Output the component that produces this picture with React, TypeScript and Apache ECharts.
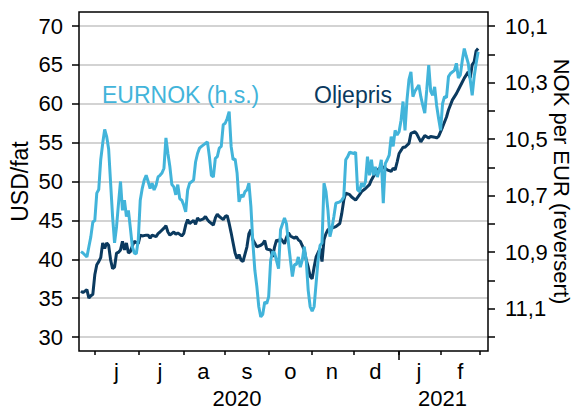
import React, { useEffect, useRef } from "react";
import * as echarts from "echarts";

// ---- axis / category definitions ----
const startDate = "2020-05-20";
const endDate = "2021-03-05";
const monthLetters = ["j", "f", "m", "a", "m", "j", "j", "a", "s", "o", "n", "d"];
const leftMin = 30;
const leftMax = 70;
const leftInterval = 5;
const rightMin = 10.1;
const rightMax = 11.2;
const rightInterval = 0.1;

// ---- series values ----
// Oil price, USD per barrel (left axis)
const oilData: [string, number][] = [
  ["2020-05-21", 35.9], ["2020-05-22", 35.7], ["2020-05-26", 36.1], ["2020-05-27", 35.0], ["2020-05-28", 35.3], ["2020-05-29", 35.5],
  ["2020-06-01", 38.0], ["2020-06-02", 39.3], ["2020-06-03", 39.7], ["2020-06-04", 40.2], ["2020-06-05", 42.1], ["2020-06-08", 41.4],
  ["2020-06-09", 42.1], ["2020-06-10", 41.8], ["2020-06-11", 39.9], ["2020-06-12", 38.8], ["2020-06-15", 39.0], ["2020-06-16", 40.8],
  ["2020-06-17", 40.9], ["2020-06-18", 41.2], ["2020-06-19", 42.3], ["2020-06-22", 41.2], ["2020-06-23", 42.1], ["2020-06-24", 40.8],
  ["2020-06-25", 41.0], ["2020-06-26", 41.7], ["2020-06-29", 42.3],
  ["2020-07-01", 42.0], ["2020-07-02", 43.1], ["2020-07-03", 43.0], ["2020-07-07", 43.1], ["2020-07-08", 43.1], ["2020-07-09", 42.7],
  ["2020-07-10", 43.1], ["2020-07-14", 42.9], ["2020-07-15", 43.3], ["2020-07-16", 43.5], ["2020-07-20", 44.0], ["2020-07-21", 44.3],
  ["2020-07-22", 43.5], ["2020-07-23", 43.1], ["2020-07-27", 43.5], ["2020-07-28", 43.2], ["2020-07-29", 43.4], ["2020-07-31", 43.0],
  ["2020-08-03", 43.3], ["2020-08-04", 44.4], ["2020-08-05", 45.1], ["2020-08-06", 44.6], ["2020-08-10", 45.0], ["2020-08-11", 44.5],
  ["2020-08-12", 45.3], ["2020-08-13", 45.0], ["2020-08-17", 45.2], ["2020-08-18", 45.5], ["2020-08-19", 45.1], ["2020-08-20", 44.8],
  ["2020-08-24", 44.4], ["2020-08-25", 45.3], ["2020-08-26", 45.8], ["2020-08-27", 45.5], ["2020-08-31", 45.1],
  ["2020-09-01", 45.5], ["2020-09-02", 45.6], ["2020-09-03", 44.6], ["2020-09-04", 43.4], ["2020-09-07", 42.1], ["2020-09-08", 40.8],
  ["2020-09-09", 40.1], ["2020-09-10", 40.6], ["2020-09-11", 39.9], ["2020-09-14", 39.7], ["2020-09-16", 41.6], ["2020-09-17", 43.3],
  ["2020-09-18", 43.8], ["2020-09-21", 42.5], ["2020-09-23", 41.6], ["2020-09-25", 41.8], ["2020-09-28", 42.0], ["2020-09-29", 42.4],
  ["2020-09-30", 41.3],
  ["2020-10-02", 41.2], ["2020-10-05", 40.3], ["2020-10-06", 41.6], ["2020-10-07", 42.5], ["2020-10-08", 42.3], ["2020-10-09", 42.7],
  ["2020-10-13", 42.0], ["2020-10-14", 42.8], ["2020-10-15", 43.4], ["2020-10-16", 43.0], ["2020-10-20", 42.7], ["2020-10-21", 42.9],
  ["2020-10-22", 42.5], ["2020-10-23", 42.3], ["2020-10-27", 41.2], ["2020-10-28", 39.9], ["2020-10-29", 39.0], ["2020-10-30", 37.8],
  ["2020-11-02", 37.5], ["2020-11-03", 39.0], ["2020-11-04", 40.3], ["2020-11-06", 41.4], ["2020-11-09", 39.7], ["2020-11-10", 42.5],
  ["2020-11-11", 43.3], ["2020-11-12", 43.8], ["2020-11-16", 44.0], ["2020-11-18", 44.2], ["2020-11-20", 44.6], ["2020-11-23", 45.9],
  ["2020-11-24", 47.6], ["2020-11-25", 48.5], ["2020-11-27", 48.3], ["2020-11-30", 48.0],
  ["2020-12-02", 47.6], ["2020-12-04", 48.3], ["2020-12-07", 48.7], ["2020-12-09", 49.1], ["2020-12-11", 49.6], ["2020-12-14", 50.2],
  ["2020-12-16", 51.1], ["2020-12-18", 51.7], ["2020-12-21", 51.5], ["2020-12-22", 51.9], ["2020-12-24", 51.5], ["2020-12-28", 51.3],
  ["2020-12-29", 51.7], ["2020-12-30", 51.5], ["2020-12-31", 52.5],
  ["2021-01-01", 53.6], ["2021-01-05", 54.4], ["2021-01-06", 54.4], ["2021-01-08", 54.9], ["2021-01-11", 56.2], ["2021-01-13", 56.4],
  ["2021-01-14", 56.1], ["2021-01-18", 55.1], ["2021-01-20", 55.9], ["2021-01-22", 55.6], ["2021-01-25", 55.8], ["2021-01-27", 55.7],
  ["2021-01-28", 55.6], ["2021-01-29", 55.8],
  ["2021-02-02", 57.0], ["2021-02-04", 58.3], ["2021-02-05", 59.2], ["2021-02-09", 60.5], ["2021-02-11", 61.3], ["2021-02-12", 61.8],
  ["2021-02-16", 62.8], ["2021-02-17", 63.3], ["2021-02-19", 64.1], ["2021-02-22", 63.3], ["2021-02-23", 65.0], ["2021-02-24", 65.4],
  ["2021-02-25", 66.8], ["2021-02-26", 67.1],
];

// EURNOK, NOK per EUR (right axis, reversed)
const eurnokData: [string, number][] = [
  ["2020-05-21", 10.898], ["2020-05-22", 10.903], ["2020-05-26", 10.917], ["2020-05-27", 10.881], ["2020-05-28", 10.845], ["2020-05-29", 10.793],
  ["2020-06-01", 10.788], ["2020-06-02", 10.691], ["2020-06-03", 10.678], ["2020-06-04", 10.573], ["2020-06-05", 10.515], ["2020-06-08", 10.466],
  ["2020-06-09", 10.491], ["2020-06-10", 10.535], ["2020-06-11", 10.656], ["2020-06-12", 10.774], ["2020-06-15", 10.867], ["2020-06-16", 10.810],
  ["2020-06-17", 10.727], ["2020-06-18", 10.650], ["2020-06-19", 10.752], ["2020-06-22", 10.716], ["2020-06-23", 10.774], ["2020-06-24", 10.752],
  ["2020-06-25", 10.815], ["2020-06-26", 10.881], ["2020-06-29", 10.903], ["2020-06-30", 10.906],
  ["2020-07-01", 10.856], ["2020-07-02", 10.716], ["2020-07-03", 10.675], ["2020-07-06", 10.645], ["2020-07-07", 10.628], ["2020-07-08", 10.650],
  ["2020-07-09", 10.675], ["2020-07-10", 10.656], ["2020-07-13", 10.680], ["2020-07-14", 10.664], ["2020-07-15", 10.634], ["2020-07-16", 10.628],
  ["2020-07-17", 10.620], ["2020-07-20", 10.603], ["2020-07-21", 10.496], ["2020-07-22", 10.551], ["2020-07-23", 10.598], ["2020-07-24", 10.661],
  ["2020-07-27", 10.669], ["2020-07-28", 10.697], ["2020-07-29", 10.661], ["2020-07-30", 10.711], ["2020-07-31", 10.716],
  ["2020-08-03", 10.733], ["2020-08-04", 10.757], ["2020-08-05", 10.680], ["2020-08-06", 10.656], ["2020-08-10", 10.645], ["2020-08-11", 10.581],
  ["2020-08-12", 10.551], ["2020-08-13", 10.532], ["2020-08-14", 10.526], ["2020-08-18", 10.515], ["2020-08-19", 10.510], ["2020-08-20", 10.562],
  ["2020-08-21", 10.628], ["2020-08-24", 10.634], ["2020-08-25", 10.568], ["2020-08-26", 10.562], ["2020-08-27", 10.532], ["2020-08-28", 10.526],
  ["2020-08-31", 10.449],
  ["2020-09-01", 10.444], ["2020-09-02", 10.427], ["2020-09-03", 10.403], ["2020-09-04", 10.526], ["2020-09-07", 10.573], ["2020-09-08", 10.570],
  ["2020-09-09", 10.620], ["2020-09-10", 10.722], ["2020-09-11", 10.697], ["2020-09-14", 10.705], ["2020-09-15", 10.686], ["2020-09-16", 10.680],
  ["2020-09-17", 10.656], ["2020-09-18", 10.738], ["2020-09-21", 10.867], ["2020-09-22", 10.964], ["2020-09-23", 11.021], ["2020-09-24", 11.093],
  ["2020-09-25", 11.129], ["2020-09-28", 11.120], ["2020-09-29", 11.076], ["2020-09-30", 11.082],
  ["2020-10-01", 11.057], ["2020-10-02", 10.928], ["2020-10-05", 10.898], ["2020-10-06", 10.903], ["2020-10-08", 10.958], ["2020-10-09", 10.821],
  ["2020-10-13", 10.779], ["2020-10-14", 10.799], ["2020-10-15", 10.867], ["2020-10-16", 10.928], ["2020-10-19", 10.986], ["2020-10-20", 10.944],
  ["2020-10-21", 10.944], ["2020-10-22", 10.917], ["2020-10-23", 10.953], ["2020-10-26", 10.928], ["2020-10-27", 10.881], ["2020-10-28", 10.928],
  ["2020-10-29", 11.035], ["2020-10-30", 11.093],
  ["2020-11-02", 11.109], ["2020-11-03", 11.093], ["2020-11-04", 11.010], ["2020-11-05", 10.928], ["2020-11-06", 10.876], ["2020-11-09", 10.867],
  ["2020-11-10", 10.656], ["2020-11-11", 10.686], ["2020-11-12", 10.752], ["2020-11-13", 10.845], ["2020-11-16", 10.815], ["2020-11-17", 10.774],
  ["2020-11-18", 10.727], ["2020-11-20", 10.722], ["2020-11-23", 10.716], ["2020-11-24", 10.705], ["2020-11-25", 10.573], ["2020-11-26", 10.562],
  ["2020-11-27", 10.546],
  ["2020-12-01", 10.551], ["2020-12-02", 10.546], ["2020-12-03", 10.680], ["2020-12-04", 10.686], ["2020-12-07", 10.656], ["2020-12-08", 10.669],
  ["2020-12-09", 10.650], ["2020-12-10", 10.562], ["2020-12-11", 10.628], ["2020-12-14", 10.573], ["2020-12-15", 10.628], ["2020-12-16", 10.598],
  ["2020-12-17", 10.634], ["2020-12-18", 10.609], ["2020-12-21", 10.573], ["2020-12-22", 10.727], ["2020-12-23", 10.587], ["2020-12-24", 10.573],
  ["2020-12-25", 10.557], ["2020-12-28", 10.491], ["2020-12-29", 10.526], ["2020-12-30", 10.469], ["2020-12-31", 10.485],
  ["2021-01-01", 10.474], ["2021-01-04", 10.433], ["2021-01-05", 10.367], ["2021-01-06", 10.469], ["2021-01-07", 10.361], ["2021-01-08", 10.290],
  ["2021-01-11", 10.262], ["2021-01-12", 10.350], ["2021-01-13", 10.331], ["2021-01-15", 10.309], ["2021-01-18", 10.350], ["2021-01-19", 10.381],
  ["2021-01-20", 10.408], ["2021-01-21", 10.326], ["2021-01-22", 10.238], ["2021-01-25", 10.331], ["2021-01-26", 10.345], ["2021-01-27", 10.315],
  ["2021-01-28", 10.381], ["2021-01-29", 10.427],
  ["2021-02-01", 10.469], ["2021-02-02", 10.375], ["2021-02-03", 10.350], ["2021-02-04", 10.353], ["2021-02-05", 10.279], ["2021-02-08", 10.268],
  ["2021-02-10", 10.257], ["2021-02-11", 10.232], ["2021-02-12", 10.284], ["2021-02-15", 10.273], ["2021-02-16", 10.221], ["2021-02-17", 10.180],
  ["2021-02-18", 10.207], ["2021-02-19", 10.232], ["2021-02-22", 10.290], ["2021-02-23", 10.345], ["2021-02-24", 10.279], ["2021-02-25", 10.232],
  ["2021-02-26", 10.191],
];

const DARK = "#0b3a5f";
const LIGHT = "#42b4da";
const FONT = "'Liberation Sans', Arial, sans-serif";

function businessDays(start: string, end: string): string[] {
  const out: string[] = [];
  const d = new Date(start + "T00:00:00Z");
  const e = new Date(end + "T00:00:00Z");
  while (d.getTime() <= e.getTime()) {
    const wd = d.getUTCDay();
    if (wd !== 0 && wd !== 6) out.push(d.toISOString().slice(0, 10));
    d.setUTCDate(d.getUTCDate() + 1);
  }
  return out;
}

const categories = businessDays(startDate, endDate);

// month starts (first business day of a month inside the axis)
const monthStartIdx: number[] = [];
categories.forEach((c, i) => {
  if (i > 0 && c.slice(0, 7) !== categories[i - 1].slice(0, 7)) monthStartIdx.push(i);
});
const monthStarts = new Set(monthStartIdx);
const monthLabelIdx = new Set<number>();
for (let k = 0; k < monthStartIdx.length - 1; k++) {
  const s = monthStartIdx[k];
  const e = monthStartIdx[k + 1];
  monthLabelIdx.add(s + Math.floor((e - s) / 2));
}
// year boundaries and year label positions
const yearStarts = new Set<number>();
const yearLabelIdx = new Set<number>();
{
  let segStart = 0;
  for (let i = 1; i <= categories.length; i++) {
    if (i === categories.length || categories[i].slice(0, 4) !== categories[i - 1].slice(0, 4)) {
      yearLabelIdx.add(segStart + Math.floor((i - 1 - segStart) / 2));
      if (i < categories.length) yearStarts.add(i);
      segStart = i;
    }
  }
}

export default function App() {
  const ref = useRef<HTMLDivElement>(null);
  useEffect(() => {
    if (!ref.current) return;
    const chart = echarts.init(ref.current, undefined, { renderer: "svg" });
    const tickStyle = { color: "#000", width: 1.5 };
    const labelStyle = { color: "#000", fontSize: 22, fontFamily: FONT };
    chart.setOption({
      animation: false,
      textStyle: { fontFamily: FONT },
      grid: { left: 79, right: 92, top: 26, bottom: 79, containLabel: false, outerBoundsMode: "none" },
      xAxis: [
        {
          type: "category",
          data: categories,
          boundaryGap: false,
          position: "bottom",
          offset: 14,
          axisLine: { show: false },
          axisTick: { show: true, interval: (i: number) => monthStarts.has(i), length: 4, lineStyle: tickStyle },
          axisLabel: {
            ...labelStyle,
            interval: (i: number) => monthLabelIdx.has(i),
            formatter: (v: string) => monthLetters[parseInt(v.slice(5, 7), 10) - 1],
            margin: 9,
          },
          splitLine: { show: false },
        },
        {
          type: "category",
          data: categories,
          boundaryGap: false,
          position: "bottom",
          offset: 14,
          axisLine: { show: false },
          axisTick: { show: true, interval: (i: number) => yearStarts.has(i), length: 9, lineStyle: tickStyle },
          axisLabel: {
            ...labelStyle,
            interval: (i: number) => yearLabelIdx.has(i),
            formatter: (v: string) => v.slice(0, 4),
            margin: 36,
          },
          splitLine: { show: false },
        },
      ],
      yAxis: [
        {
          type: "value",
          position: "left",
          min: leftMin,
          max: leftMax,
          interval: leftInterval,
          axisLine: { show: false },
          axisTick: { show: true, length: 7, lineStyle: tickStyle },
          axisLabel: { ...labelStyle, margin: 16 },
          splitLine: { show: true, lineStyle: { color: "#c4c4c4", width: 1.5 } },
          name: "USD/fat",
          nameLocation: "middle",
          nameGap: 48,
          nameMoveOverlap: false,
          nameTextStyle: { ...labelStyle, fontSize: 23 },
        },
        {
          type: "value",
          position: "right",
          min: rightMin,
          max: rightMax,
          interval: rightInterval,
          inverse: true,
          axisLine: { show: false },
          axisTick: { show: true, length: 7, lineStyle: tickStyle },
          axisLabel: {
            ...labelStyle,
            margin: 17,
            formatter: (v: number) => {
              const k = Math.round(v * 10);
              return k % 2 === 1 ? (k / 10).toFixed(1).replace(".", ",") : "";
            },
          },
          splitLine: { show: false },
          name: "NOK per EUR (reversert)",
          nameLocation: "middle",
          nameRotate: -90,
          nameGap: 62,
          nameMoveOverlap: false,
          nameTextStyle: { ...labelStyle, fontSize: 22 },
        },
      ],
      series: [
        {
          name: "Oljepris",
          type: "line",
          xAxisIndex: 0,
          yAxisIndex: 0,
          data: oilData,
          showSymbol: false,
          symbol: "none",
          lineStyle: { color: DARK, width: 3 },
          itemStyle: { color: DARK },
          z: 2,
        },
        {
          name: "EURNOK (h.s.)",
          type: "line",
          xAxisIndex: 0,
          yAxisIndex: 1,
          data: eurnokData,
          showSymbol: false,
          symbol: "none",
          lineStyle: { color: LIGHT, width: 3 },
          itemStyle: { color: LIGHT },
          z: 3,
        },
      ],
      graphic: [
        {
          type: "rect",
          shape: { x: 79, y: 12, width: 409, height: 339 },
          style: { fill: "none", stroke: "#000", lineWidth: 1.5 },
          silent: true,
          z: 10,
        },
        {
          type: "text",
          x: 102,
          y: 95,
          style: { text: "EURNOK (h.s.)", fill: LIGHT, fontSize: 23, fontFamily: FONT, textVerticalAlign: "middle", verticalAlign: "middle" },
          z: 10,
        },
        {
          type: "text",
          x: 314,
          y: 95,
          style: { text: "Oljepris", fill: DARK, fontSize: 23, fontFamily: FONT, textVerticalAlign: "middle", verticalAlign: "middle" },
          z: 10,
        },
      ],
    });
    return () => chart.dispose();
  }, []);
  return (
    <div
      ref={ref}
      style={{ position: "fixed", left: 0, top: 0, width: 580, height: 416, background: "#fff" }}
    />
  );
}
